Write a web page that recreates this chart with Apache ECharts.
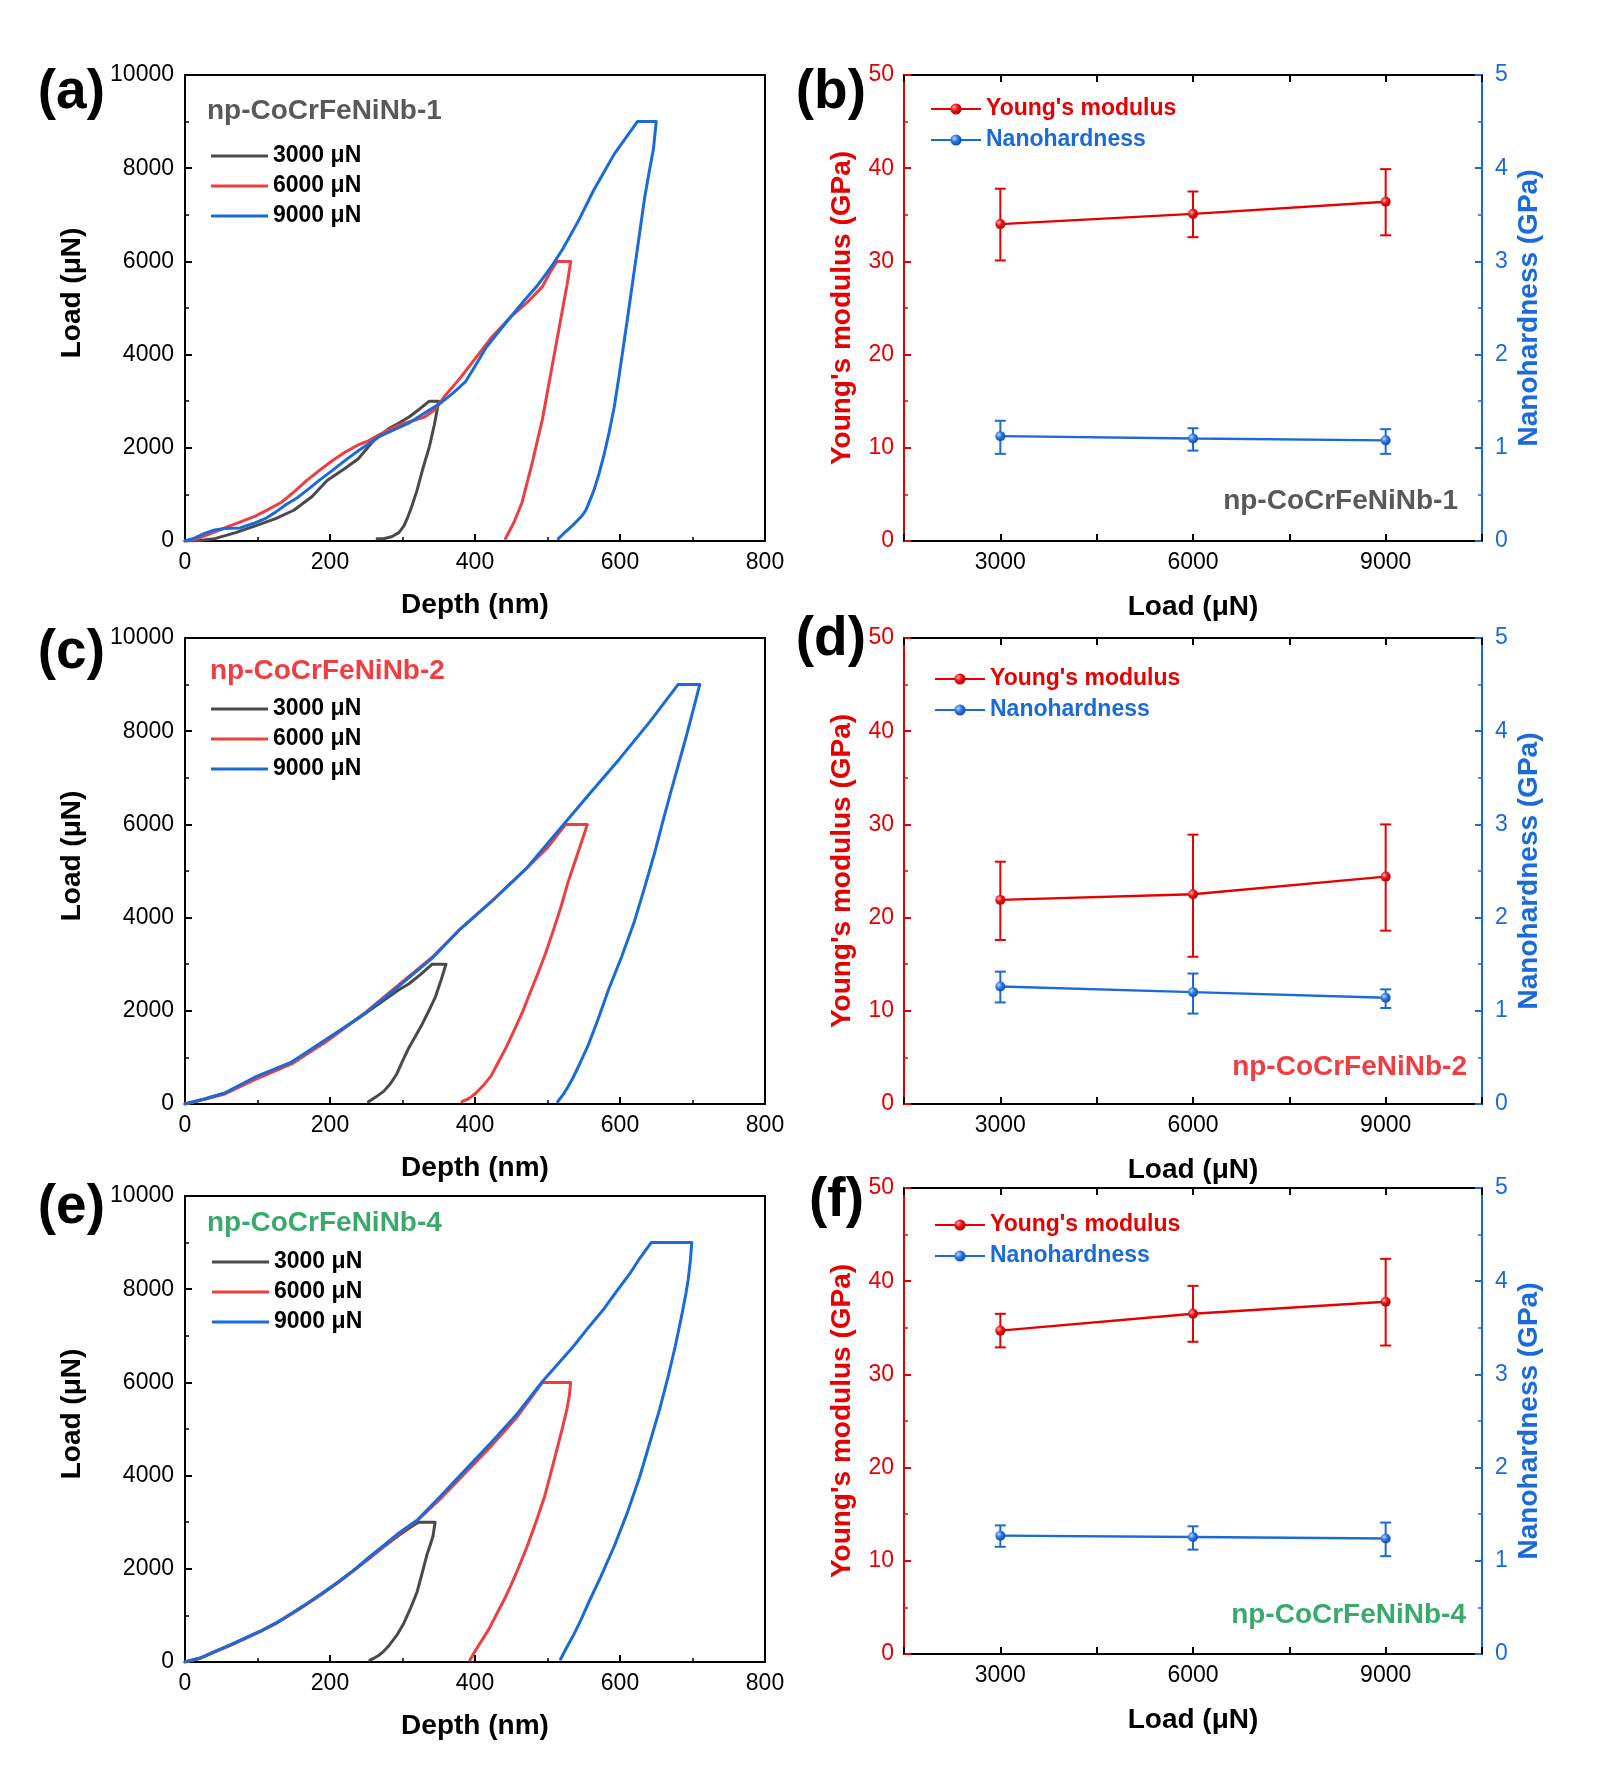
<!DOCTYPE html>
<html><head><meta charset="utf-8">
<script src="https://cdn.jsdelivr.net/npm/echarts@6/dist/echarts.min.js"></script>
<style>html,body{margin:0;padding:0;background:#fff}#c{width:1604px;height:1771px}</style>
</head><body><div id="c"></div><script>
// ---------------- DATA ----------------
const curveNames = ['3000 μN', '6000 μN', '9000 μN'];
const depthTicks = [0, 200, 400, 600, 800];
const loadTicks = [3000, 6000, 9000];

// (a) np-CoCrFeNiNb-1 load-depth curves [depth nm, load μN]
const a3000 = [[0,0],[20,10],[41,50],[70,180],[97,323],[125,480],[150,660],[175,950],[196,1300],[220,1550],[239,1766],[260,2150],[280,2400],[295,2530],[309,2660],[325,2850],[337,3000],[350,3000],
  [344,2500],[337,2020],[328,1550],[320,1087],[313,750],[307,500],[302,323],[295,180],[285,90],[275,55],[265,50]];
const a6000 = [[0,0],[15,40],[27,110],[45,220],[62,323],[80,430],[97,535],[115,680],[133,832],[150,1050],[168,1300],[185,1510],[203,1723],[220,1900],[239,2063],[253,2150],[267,2275],[280,2380],[295,2487],[312,2570],[330,2657],[345,2827],[359,3124],[380,3506],[401,3930],[422,4355],[450,4822],[472,5119],[493,5458],[503,5750],[513,6000],[532,6000],
  [527,5500],[521,4992],[507,3803],[493,2615],[479,1681],[465,832],[454,407],[447,200],[442,50]];
const a9000 = [[0,0],[13,60],[25,150],[41,238],[55,270],[76,280],[95,380],[112,492],[125,620],[140,790],[155,930],[168,1087],[185,1300],[203,1511],[220,1720],[239,1936],[253,2080],[267,2233],[290,2400],[309,2530],[330,2740],[352,2954],[370,3180],[387,3421],[400,3750],[415,4143],[432,4480],[450,4822],[468,5160],[487,5501],[505,5880],[521,6265],[543,6880],[564,7538],[578,7920],[592,8302],[608,8650],[624,9000],[650,9000],
  [646,8400],[640,7900],[634,7368],[627,6600],[620,5840],[613,5070],[606,4312],[599,3570],[592,2869],[585,2330],[578,1851],[571,1440],[564,1087],[558,850],[553,662],[548,550],[542,450],[535,340],[528,238],[521,140],[515,50]];

// (c) np-CoCrFeNiNb-2
const c3000 = [[0,0],[27,107],[55,230],[97,558],[147,887],[196,1379],[246,1913],[295,2450],[309,2580],[325,2780],[341,3000],[360,3000],
  [353,2650],[345,2282],[336,1990],[327,1708],[318,1460],[309,1215],[300,920],[292,640],[283,430],[274,271],[263,148],[253,49]];
const c6000 = [[0,0],[27,100],[55,215],[97,530],[147,860],[196,1350],[246,1930],[295,2560],[341,3150],[380,3760],[422,4335],[472,5074],[500,5500],[525,6000],[555,6000],
  [546,5580],[537,5160],[528,4745],[518,4200],[507,3678],[497,3220],[486,2775],[475,2350],[465,1954],[454,1580],[443,1215],[432,890],[422,599],[411,390],[401,230],[392,120],[382,49]];
const c9000 = [[0,0],[27,110],[55,240],[97,580],[147,900],[196,1400],[246,1913],[295,2529],[341,3130],[380,3760],[422,4335],[472,5074],[521,5977],[556,6620],[599,7400],[641,8200],[680,9000],[710,9000],
  [700,8400],[691,7865],[680,7250],[669,6634],[658,6000],[648,5402],[634,4650],[620,3924],[602,3150],[584,2447],[570,1830],[556,1256],[545,880],[535,558],[528,360],[521,189],[514,49]];

// (e) np-CoCrFeNiNb-4
const e3000 = [[0,0],[20,80],[41,222],[62,360],[83,510],[105,670],[126,839],[147,1040],[168,1250],[189,1470],[210,1702],[232,1960],[253,2210],[274,2470],[295,2720],[310,2880],[322,3000],[345,3000],
  [342,2700],[338,2500],[334,2319],[327,1900],[320,1497],[311,1150],[302,839],[292,570],[281,345],[274,230],[267,140],[261,85],[255,41]];
const e6000 = [[0,0],[20,75],[41,215],[62,350],[83,500],[105,660],[126,830],[147,1030],[168,1240],[189,1460],[210,1690],[232,1950],[253,2210],[274,2480],[295,2750],[320,3030],[352,3500],[387,4060],[422,4630],[458,5260],[493,6000],[532,6000],
  [530,5700],[527,5444],[521,5050],[514,4622],[505,4080],[496,3553],[484,3000],[472,2484],[461,2060],[450,1661],[440,1330],[429,1003],[419,700],[408,428],[400,230],[393,41]];
const e9000 = [[0,0],[20,80],[41,222],[62,360],[83,510],[105,670],[126,839],[147,1040],[168,1250],[189,1470],[210,1702],[232,1960],[253,2237],[274,2500],[295,2771],[320,3043],[352,3553],[387,4128],[422,4704],[458,5321],[493,6020],[514,6390],[535,6760],[556,7170],[578,7582],[595,7950],[613,8322],[628,8680],[643,9000],[699,9000],
  [697,8600],[694,8200],[691,7911],[684,7350],[676,6760],[666,6100],[655,5444],[641,4700],[627,3964],[610,3200],[592,2484],[574,1850],[556,1250],[546,900],[535,551],[526,300],[518,58]];

// (b) np-CoCrFeNiNb-1 : Young's modulus (GPa) and nanohardness (GPa) vs load
const bYoung = [34.0, 35.1, 36.4];
const bYoungLo = [30.1, 32.6, 32.8];
const bYoungHi = [37.8, 37.5, 39.9];
const bHard = [1.125, 1.10, 1.08];
const bHardLo = [0.935, 0.97, 0.935];
const bHardHi = [1.29, 1.21, 1.20];
// (d) np-CoCrFeNiNb-2
const dYoung = [21.9, 22.5, 24.4];
const dYoungLo = [17.6, 15.8, 18.6];
const dYoungHi = [26.0, 28.9, 30.0];
const dHard = [1.26, 1.20, 1.14];
const dHardLo = [1.09, 0.97, 1.03];
const dHardHi = [1.42, 1.40, 1.23];
// (f) np-CoCrFeNiNb-4
const fYoung = [34.7, 36.5, 37.8];
const fYoungLo = [32.9, 33.5, 33.1];
const fYoungHi = [36.5, 39.5, 42.4];
const fHard = [1.27, 1.255, 1.24];
const fHardLo = [1.15, 1.12, 1.05];
const fHardHi = [1.38, 1.37, 1.41];

// ---------------- STYLE / LAYOUT ----------------
const FONT = "'Liberation Sans', Arial, Helvetica, sans-serif";
const C_GRAY = '#4a4a4a', C_RED = '#ef3e42', C_BLUE = '#1a6ad8', C_RED2 = '#e60000', C_GREEN = '#3aa96b', C_NAME = '#595959';
const H = 466;
const gridsPx = [
  {left:185, top:75, width:580, height:H},
  {left:904, top:75, width:578, height:H},
  {left:185, top:638, width:580, height:H},
  {left:904, top:638, width:578, height:H},
  {left:185, top:1196, width:580, height:H},
  {left:904, top:1188, width:578, height:H}
];

const plain = (v) => String(v);
const lineK = (c) => ({show:true, onZero:false, lineStyle:{color:c, width:2}});
const tickK = (c, len) => ({show:true, inside:true, length:len, lineStyle:{color:c, width:2}});
const minorK = (c, n) => ({show:true, splitNumber:n, length:4, lineStyle:{color:c, width:1.5}});
const labelK = (c, m) => ({show:true, color:c, fontSize:23, fontFamily:FONT, margin:m, formatter:plain});
const nameK = (c) => ({color:c, fontSize:28, fontWeight:'bold', fontFamily:FONT});

const xAxes = [], yAxes = [], series = [], legends = [];

function curvePanel(g, curves) {
  xAxes.push({gridIndex:g, type:'value', position:'bottom', min:depthTicks[0], max:depthTicks[depthTicks.length-1], interval:200,
    axisLine:lineK('#000'), axisTick:tickK('#000',7), minorTick:minorK('#000',2), axisLabel:labelK('#000',10),
    splitLine:{show:false}, minorSplitLine:{show:false},
    name:'Depth (nm)', nameLocation:'middle', nameGap:50, nameTextStyle:nameK('#000')});
  xAxes.push({gridIndex:g, type:'value', position:'top', min:0, max:800, interval:200,
    axisLine:lineK('#000'), axisTick:{show:false}, axisLabel:{show:false}, splitLine:{show:false}});
  yAxes.push({gridIndex:g, type:'value', position:'left', min:0, max:10000, interval:2000,
    axisLine:lineK('#000'), axisTick:tickK('#000',7), minorTick:minorK('#000',2), axisLabel:labelK('#000',11),
    splitLine:{show:false}, minorSplitLine:{show:false},
    name:'Load (μN)', nameLocation:'middle', nameGap:99,
    nameTextStyle:Object.assign(nameK('#000'), {padding:[0,0,0,30]})});
  yAxes.push({gridIndex:g, type:'value', position:'right', min:0, max:10000, interval:2000,
    axisLine:lineK('#000'), axisTick:{show:false}, axisLabel:{show:false}, splitLine:{show:false}});
  const cols = [C_GRAY, C_RED, C_BLUE];
  curves.forEach((d, i) => series.push({type:'line', name:curveNames[i], xAxisIndex:2*g, yAxisIndex:2*g,
    data:d, symbol:'none', smooth:false, lineStyle:{color:cols[i], width:3, join:'round', cap:'round'}, itemStyle:{color:cols[i]}, z:3+i}));
}

function sphere(c1, c2, c3) {
  return {type:'radial', x:0.35, y:0.35, r:0.7, colorStops:[{offset:0,color:c1},{offset:0.45,color:c2},{offset:1,color:c3}]};
}

function errSeries(g, yi, lo, hi, color) {
  return {type:'custom', xAxisIndex:2*g, yAxisIndex:yi, z:2, silent:true,
    data: loadTicks.map((x, i) => [x, lo[i], hi[i]]),
    encode:{x:0, y:[1,2]},
    renderItem: (params, api) => {
      const p1 = api.coord([api.value(0), api.value(1)]);
      const p2 = api.coord([api.value(0), api.value(2)]);
      const w = 5.5, st = {stroke:color, lineWidth:2};
      return {type:'group', children:[
        {type:'line', shape:{x1:p1[0], y1:p1[1], x2:p2[0], y2:p2[1]}, style:st},
        {type:'line', shape:{x1:p1[0]-w, y1:p1[1], x2:p1[0]+w, y2:p1[1]}, style:st},
        {type:'line', shape:{x1:p2[0]-w, y1:p2[1], x2:p2[0]+w, y2:p2[1]}, style:st}
      ]};
    }};
}

function propPanel(g, young, yLo, yHi, hard, hLo, hHi) {
  const fmt = (v) => (v % 3000 === 0 ? String(v) : '');
  xAxes.push({gridIndex:g, type:'value', position:'bottom', min:1500, max:10500, interval:1500,
    axisLine:lineK('#000'), axisTick:tickK('#000',7), axisLabel:Object.assign(labelK('#000',10), {formatter:fmt}),
    splitLine:{show:false},
    name:'Load (μN)', nameLocation:'middle', nameGap:52, nameTextStyle:nameK('#000')});
  xAxes.push({gridIndex:g, type:'value', position:'top', min:1500, max:10500, interval:1500,
    axisLine:lineK('#000'), axisTick:tickK('#000',7), axisLabel:{show:false}, splitLine:{show:false}});
  yAxes.push({gridIndex:g, type:'value', position:'left', min:0, max:50, interval:10,
    axisLine:lineK(C_RED2), axisTick:tickK(C_RED2,7), minorTick:minorK(C_RED2,2), axisLabel:labelK(C_RED2,10),
    splitLine:{show:false}, minorSplitLine:{show:false},
    name:"Young's modulus (GPa)", nameLocation:'middle', nameGap:48, nameTextStyle:nameK(C_RED2)});
  yAxes.push({gridIndex:g, type:'value', position:'right', min:0, max:5, interval:1,
    axisLine:lineK(C_BLUE), axisTick:tickK(C_BLUE,7), minorTick:minorK(C_BLUE,2), axisLabel:labelK(C_BLUE,13),
    splitLine:{show:false}, minorSplitLine:{show:false},
    name:'Nanohardness (GPa)', nameLocation:'middle', nameGap:33, nameTextStyle:nameK(C_BLUE)});
  series.push(errSeries(g, 2*g, yLo, yHi, C_RED2));
  series.push({type:'line', name:"Young's modulus", xAxisIndex:2*g, yAxisIndex:2*g, z:4,
    data:loadTicks.map((x, i) => [x, young[i]]), symbol:'circle', symbolSize:10, showSymbol:true,
    lineStyle:{color:C_RED2, width:2.4}, itemStyle:{color:sphere('#ffb0b0', '#ee1111', '#b00000')}});
  series.push(errSeries(g, 2*g+1, hLo, hHi, C_BLUE));
  series.push({type:'line', name:'Nanohardness', xAxisIndex:2*g, yAxisIndex:2*g+1, z:4,
    data:loadTicks.map((x, i) => [x, hard[i]]), symbol:'circle', symbolSize:10, showSymbol:true,
    lineStyle:{color:C_BLUE, width:2.4}, itemStyle:{color:sphere('#b8d4ff', '#2a78e6', '#0d4aa8')}});
}

curvePanel(0, [a3000, a6000, a9000]);
propPanel(1, bYoung, bYoungLo, bYoungHi, bHard, bHardLo, bHardHi);
curvePanel(2, [c3000, c6000, c9000]);
propPanel(3, dYoung, dYoungLo, dYoungHi, dHard, dHardLo, dHardHi);
curvePanel(4, [e3000, e6000, e9000]);
propPanel(5, fYoung, fYoungLo, fYoungHi, fHard, fHardLo, fHardHi);

const legendText = {fontSize:23, fontWeight:'bold', fontFamily:FONT, color:'#000', lineHeight:28};
[[211,142],[211,695],[212,1248]].forEach(p => legends.push({
  orient:'vertical', left:p[0], top:p[1], itemWidth:57, itemHeight:3, itemGap:2, padding:0, icon:'rect',
  selectedMode:false, textStyle:legendText, data:curveNames}));
[[930,95],[934,665],[934,1211]].forEach(p => legends.push({
  orient:'vertical', left:p[0], top:p[1], itemWidth:50, itemHeight:14, itemGap:3, padding:0,
  selectedMode:false, textStyle:legendText,
  data:[{name:"Young's modulus", textStyle:{color:C_RED2}}, {name:'Nanohardness', textStyle:{color:C_BLUE}}]}));

const txt = (s, x, y, font, fill, align) => ({type:'text', x:x, y:y, silent:true,
  style:{text:s, font:font, fill:fill, align:align, verticalAlign:'middle'}});
const PF = "bold 55px " + FONT, NF = "bold 28px " + FONT;
const graphics = [
  txt('(a)', 105, 93, PF, '#000', 'right'),
  txt('(b)', 866, 93, PF, '#000', 'right'),
  txt('(c)', 105, 653, PF, '#000', 'right'),
  txt('(d)', 866, 640, PF, '#000', 'right'),
  txt('(e)', 105, 1208, PF, '#000', 'right'),
  txt('(f)', 864, 1201, PF, '#000', 'right'),
  txt('np-CoCrFeNiNb-1', 207, 111, NF, C_NAME, 'left'),
  txt('np-CoCrFeNiNb-1', 1458, 501, NF, C_NAME, 'right'),
  txt('np-CoCrFeNiNb-2', 210, 671, NF, C_RED, 'left'),
  txt('np-CoCrFeNiNb-2', 1467, 1067, NF, C_RED, 'right'),
  txt('np-CoCrFeNiNb-4', 207, 1223, NF, C_GREEN, 'left'),
  txt('np-CoCrFeNiNb-4', 1466, 1615, NF, C_GREEN, 'right')
];

const chart = echarts.init(document.getElementById('c'), null, {renderer:'canvas'});
chart.setOption({
  backgroundColor:'#fff',
  animation:false,
  textStyle:{fontFamily:FONT},
  grid: gridsPx.map(g => Object.assign({containLabel:false, outerBoundsMode:'none'}, g)),
  xAxis: xAxes,
  yAxis: yAxes,
  legend: legends,
  series: series,
  graphic: graphics
});
</script></body></html>
